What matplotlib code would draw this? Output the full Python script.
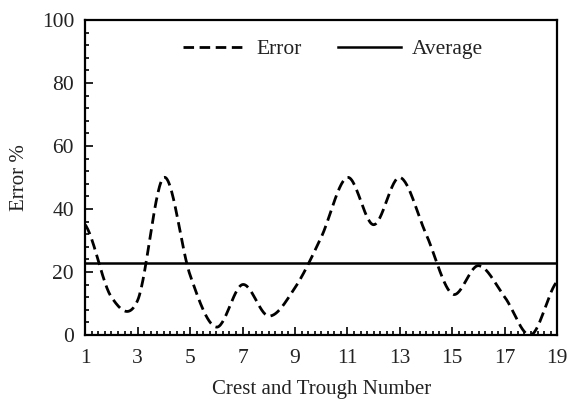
import numpy as np
import matplotlib
matplotlib.use("Agg")
import matplotlib.pyplot as plt
from matplotlib.ticker import MultipleLocator

plt.rcParams["font.family"] = ["Liberation Serif", "DejaVu Serif"]

# crest / trough numbers and error values
crest_no = [1, 2, 3, 4, 5, 6, 7, 8, 9, 10, 11, 12, 13, 14, 15, 16, 17, 18, 19]
error_pct = [35, 12, 11, 50, 19, 2.5, 16, 6, 15, 31, 50, 35, 50, 32, 13, 22, 12, 0, 17]
average_pct = 22.9
x_ticks = [1, 3, 5, 7, 9, 11, 13, 15, 17, 19]


# smooth line like Excel (Catmull-Rom through the points)
def smooth(x, y, n=30):
    x = np.asarray(x, float)
    y = np.asarray(y, float)
    xs, ys = [], []
    for i in range(len(x) - 1):
        y0 = y[i - 1] if i > 0 else y[i]
        y3 = y[i + 2] if i + 2 < len(y) else y[i + 1]
        m1 = (y[i + 1] - y0) / 2
        m2 = (y3 - y[i]) / 2
        t = np.linspace(0, 1, n, endpoint=False)
        h00 = 2 * t**3 - 3 * t**2 + 1
        h10 = t**3 - 2 * t**2 + t
        h01 = -2 * t**3 + 3 * t**2
        h11 = t**3 - t**2
        xs.append(x[i] + t * (x[i + 1] - x[i]))
        ys.append(h00 * y[i] + h10 * m1 + h01 * y[i + 1] + h11 * m2)
    xs.append([x[-1]])
    ys.append([y[-1]])
    return np.concatenate(xs), np.concatenate(ys)


sx, sy = smooth(crest_no, error_pct)

fig = plt.figure(figsize=(5.68, 4.07), dpi=100)
ax = fig.add_axes([0.150, 0.177, 0.831, 0.774])

ax.plot(sx, sy, color="black", lw=2.0, linestyle=(0, (3.8, 2.0)), label="Error")
ax.plot([crest_no[0], crest_no[-1]], [average_pct, average_pct],
        color="black", lw=1.8, label="Average")

ax.set_xlim(1, 19)
ax.set_ylim(0, 100)
ax.set_xticks(x_ticks)
ax.xaxis.set_minor_locator(MultipleLocator(0.25))
ax.yaxis.set_major_locator(MultipleLocator(20))
ax.yaxis.set_minor_locator(MultipleLocator(4))
ax.tick_params(which="both", direction="in", labelsize=15.5, width=1.2,
               labelcolor="#222222")
ax.tick_params(which="major", length=6)
ax.tick_params(axis="x", which="major", pad=10)
ax.tick_params(axis="y", which="major", pad=8)
ax.tick_params(which="minor", length=3)
for s in ax.spines.values():
    s.set_linewidth(1.6)

ax.set_xlabel("Crest and Trough Number", fontsize=15, labelpad=9, color="#222222")
ax.set_ylabel("Error %", fontsize=15, labelpad=9, color="#222222")

ax.legend(loc="upper center", ncol=2, frameon=False, fontsize=15.5,
          handlelength=2.9, handletextpad=0.5, columnspacing=1.7,
          bbox_to_anchor=(0.525, 1.0), labelcolor="#222222")

fig.savefig("out.png", dpi=100)
